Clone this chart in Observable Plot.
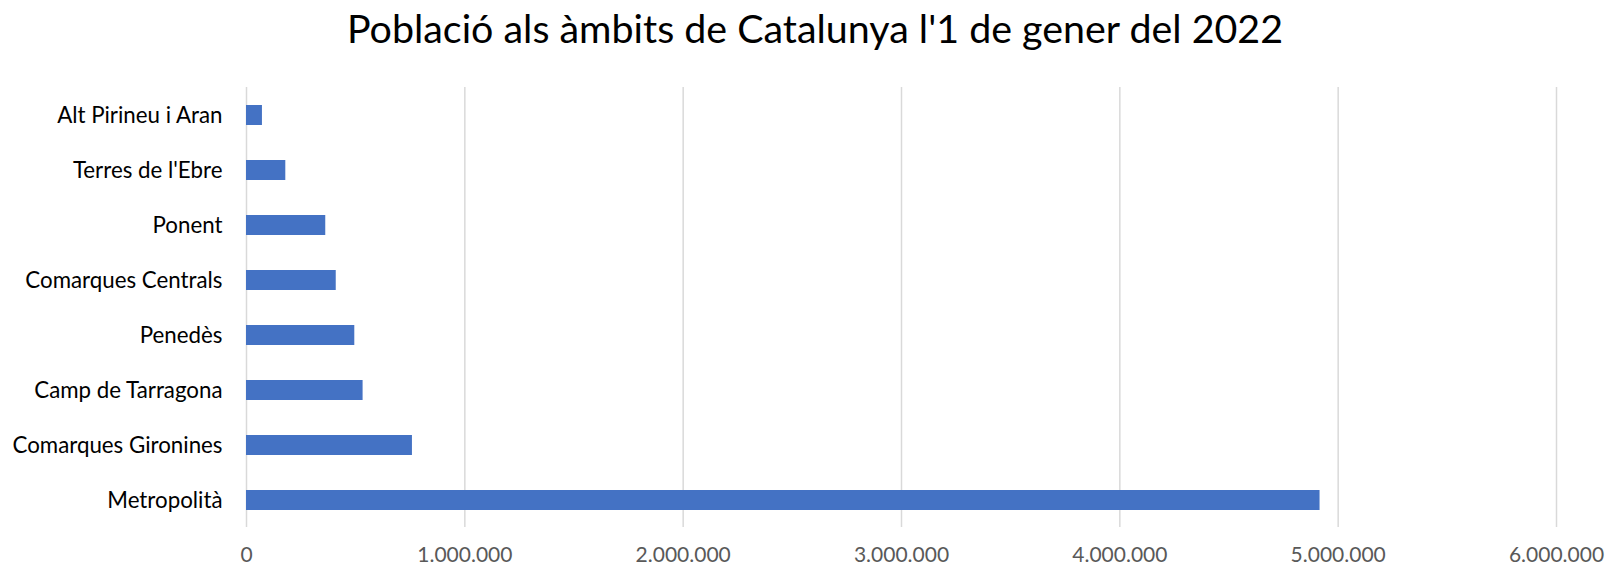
<!DOCTYPE html>
<html>
<head>
<meta charset="utf-8">
<script src="https://cdn.jsdelivr.net/npm/d3@7"></script>
<script src="https://cdn.jsdelivr.net/npm/@observablehq/plot@0.6"></script>
<style>
  html, body { margin: 0; padding: 0; background: #fff; }
  #wrap { position: relative; width: 1608px; height: 568px; overflow: hidden; }
  #title { position: absolute; top: 0; left: 0; width: 1630px; text-align: center;
           font-family: Lato, "Open Sans", sans-serif; font-size: 39.4px; color: #000;
           line-height: 56px; }
  #chart { position: absolute; top: 0; left: 0; }
</style>
</head>
<body>
<div id="wrap">
  <div id="title">Població als àmbits de Catalunya l'1 de gener del 2022</div>
  <div id="chart"></div>
</div>
<script>
const titleText = "Població als àmbits de Catalunya l'1 de gener del 2022";
const categories = [
  "Alt Pirineu i Aran",
  "Terres de l'Ebre",
  "Ponent",
  "Comarques Centrals",
  "Penedès",
  "Camp de Tarragona",
  "Comarques Gironines",
  "Metropolità"
];
const population = [73000, 180000, 363000, 411000, 496000, 534000, 760000, 4917000];
const xTicks = [0, 1000000, 2000000, 3000000, 4000000, 5000000, 6000000];

const data = categories.map((c, i) => ({ambit: c, value: population[i]}));
const fmt = d => d3.format(",")(d).replace(/,/g, ".");

document.getElementById("title").textContent = titleText;

const chart = Plot.plot({
  width: 1608,
  height: 568,
  marginTop: 87,
  marginBottom: 41,
  marginLeft: 246,
  marginRight: 52,
  style: { fontFamily: "Lato, 'Open Sans', sans-serif", background: "transparent" },
  x: { domain: [0, 6000000], ticks: xTicks },
  y: { domain: categories, paddingInner: 0.645, paddingOuter: 0.3225, align: 0.5 },
  marks: [
    Plot.ruleX(xTicks, { stroke: "#d9d9d9", strokeWidth: 1.5 }),
    Plot.barX(data, { x: "value", y: "ambit", fill: "#4472c4" }),
    Plot.axisX(xTicks, { tickSize: 0, tickPadding: 20, tickFormat: fmt, fontSize: 21, color: "#595959", label: null }),
    Plot.axisY({ tickSize: 0, tickPadding: 24, fontSize: 22.3, color: "#000", label: null })
  ]
});
document.getElementById("chart").appendChild(chart);
</script>
</body>
</html>
